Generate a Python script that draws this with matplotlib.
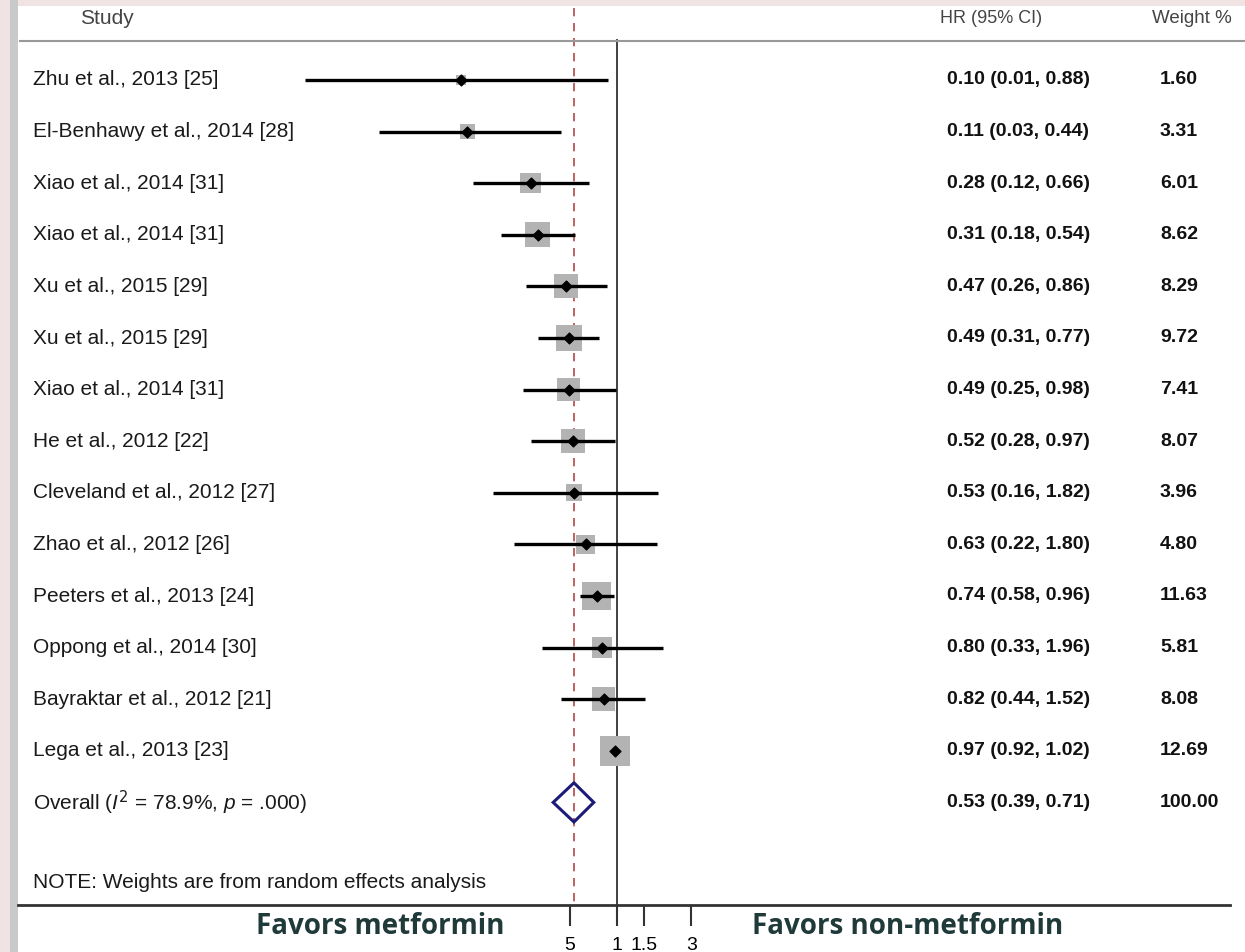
import numpy as np
import matplotlib.pyplot as plt
from matplotlib.patches import Polygon

plt.rcParams['font.family'] = ['Liberation Sans', 'DejaVu Sans']
plt.rcParams['mathtext.fontset'] = 'custom'
plt.rcParams['mathtext.rm'] = 'Liberation Sans'
plt.rcParams['mathtext.it'] = 'Liberation Sans:italic'

studies = ["Zhu et al., 2013 [25]", "El-Benhawy et al., 2014 [28]",
           "Xiao et al., 2014 [31]", "Xiao et al., 2014 [31]",
           "Xu et al., 2015 [29]", "Xu et al., 2015 [29]",
           "Xiao et al., 2014 [31]", "He et al., 2012 [22]",
           "Cleveland et al., 2012 [27]", "Zhao et al., 2012 [26]",
           "Peeters et al., 2013 [24]", "Oppong et al., 2014 [30]",
           "Bayraktar et al., 2012 [21]", "Lega et al., 2013 [23]"]
hr = [0.10, 0.11, 0.28, 0.31, 0.47, 0.49, 0.49, 0.52, 0.53, 0.63, 0.74, 0.80, 0.82, 0.97]
lo = [0.01, 0.03, 0.12, 0.18, 0.26, 0.31, 0.25, 0.28, 0.16, 0.22, 0.58, 0.33, 0.44, 0.92]
hi = [0.88, 0.44, 0.66, 0.54, 0.86, 0.77, 0.98, 0.97, 1.82, 1.80, 0.96, 1.96, 1.52, 1.02]
weight = [1.60, 3.31, 6.01, 8.62, 8.29, 9.72, 7.41, 8.07, 3.96, 4.80, 11.63, 5.81, 8.08, 12.69]
overall = (0.53, 0.39, 0.71)
overall_label = r"Overall ($I^{\mathsf{2}}$ = 78.9%, $p$ = .000)"
ticks = [0.5, 1, 1.5, 3]
tick_labels = ["5", "1", "1.5", "3"]

W, H = 1245, 952
fig = plt.figure(figsize=(W / 100, H / 100), dpi=100)
fig.patch.set_facecolor("#efe3e3")
# white panel and left gray strip
fig.add_artist(plt.Rectangle((18 / W, 0), 1, 1 - 6 / H, transform=fig.transFigure,
                             facecolor="white", edgecolor="none", zorder=0))
fig.add_artist(plt.Rectangle((10 / W, 0), 8 / W, 1, transform=fig.transFigure,
                             facecolor="#c9c9c9", edgecolor="none", zorder=0))

ax = fig.add_axes([0, 0, 1, 1])
ax.set_facecolor("none")
ax.set_xscale("log")
ppu = 67.8  # pixels per ln unit
x0 = 617
ax.set_xlim(np.exp(-x0 / ppu), np.exp((W - x0) / ppu))
row_h = 51.6
y0 = 80
ax.set_ylim((H - y0) / row_h, -y0 / row_h)

n = len(studies)
ys = np.arange(n)
tr = ax.get_yaxis_transform()

def py(p):
    return (p - y0) / row_h

# reference lines
ax.plot([1, 1], [py(40), py(905)], color="#333333", lw=1.3, zorder=1)
ax.plot([overall[0]] * 2, [py(8), py(905)], color="#b04848", lw=1.2,
        ls=(0, (5, 4)), zorder=1)

# squares sized by weight (area proportional)
for y, h, w in zip(ys, hr, weight):
    side = 8.4 * np.sqrt(w)
    ax.scatter([h], [y], marker="s", s=(side * 0.72) ** 2, color="#b3b3b3",
               edgecolors="none", zorder=2)
ax.hlines(ys, lo, hi, color="black", lw=2.4, zorder=3)
ax.scatter(hr, ys, marker="D", s=30, color="black", zorder=4)

# overall diamond
yo = n
ax.add_patch(Polygon([(overall[1], yo), (overall[0], yo - 0.38),
                      (overall[2], yo), (overall[0], yo + 0.38)],
                     closed=True, fill=False, edgecolor="#1c1c78", lw=2.2, zorder=4))

# header
ax.text(80 / W, py(19), "Study", transform=tr, fontsize=15, color="#444444", va="center")
ax.text(940 / W, py(19), "HR (95% CI)", transform=tr, fontsize=13, color="#444444", va="center")
ax.text(1152 / W, py(19), "Weight %", transform=tr, fontsize=13.5, color="#444444", va="center")
ax.plot([20 / W, 1], [py(41), py(41)], transform=tr, color="#999999", lw=1.5)

# rows
for y, s, h, l, u, w in zip(ys, studies, hr, lo, hi, weight):
    ax.text(33 / W, y, s, transform=tr, fontsize=15, color="#1a1a1a", va="center")
    ax.text(947 / W, y, f"{h:.2f} ({l:.2f}, {u:.2f})", transform=tr, fontsize=14,
            color="#111111", va="center", fontweight="bold")
    ax.text(1160 / W, y, f"{w:.2f}", transform=tr, fontsize=14,
            color="#111111", va="center", fontweight="bold")
ax.text(33 / W, yo, overall_label, transform=tr, fontsize=15, color="#1a1a1a", va="center")
ax.text(947 / W, yo, f"{overall[0]:.2f} ({overall[1]:.2f}, {overall[2]:.2f})",
        transform=tr, fontsize=14, color="#111111", va="center", fontweight="bold")
ax.text(1160 / W, yo, "100.00", transform=tr, fontsize=14, color="#111111",
        va="center", fontweight="bold")

ax.text(33 / W, py(882), "NOTE: Weights are from random effects analysis", transform=tr,
        fontsize=15, color="#1a1a1a", va="center")

# bottom axis
for sp in ["top", "left", "right"]:
    ax.spines[sp].set_visible(False)
ax.spines["bottom"].set_position(("data", py(905)))
ax.spines["bottom"].set_bounds(np.exp((18 - x0) / ppu), np.exp((1230 - x0) / ppu))
ax.spines["bottom"].set_linewidth(2)
ax.spines["bottom"].set_color("#333333")
ax.set_xticks(ticks)
ax.set_xticklabels(tick_labels)
ax.xaxis.set_minor_locator(plt.NullLocator())
ax.tick_params(axis="x", direction="out", length=15, width=1.5, color="#333333",
               labelsize=14, pad=8)
ax.set_yticks([])

ax.text(380 / W, py(927), "Favors metformin", transform=tr, fontsize=20,
        fontweight="bold", color="#203a3a", ha="center", va="center",
        family=["Open Sans", "DejaVu Sans"])
ax.text(908 / W, py(927), "Favors non-metformin", transform=tr, fontsize=20,
        fontweight="bold", color="#203a3a", ha="center", va="center",
        family=["Open Sans", "DejaVu Sans"])

fig.savefig("out.png", dpi=100, facecolor=fig.get_facecolor())
